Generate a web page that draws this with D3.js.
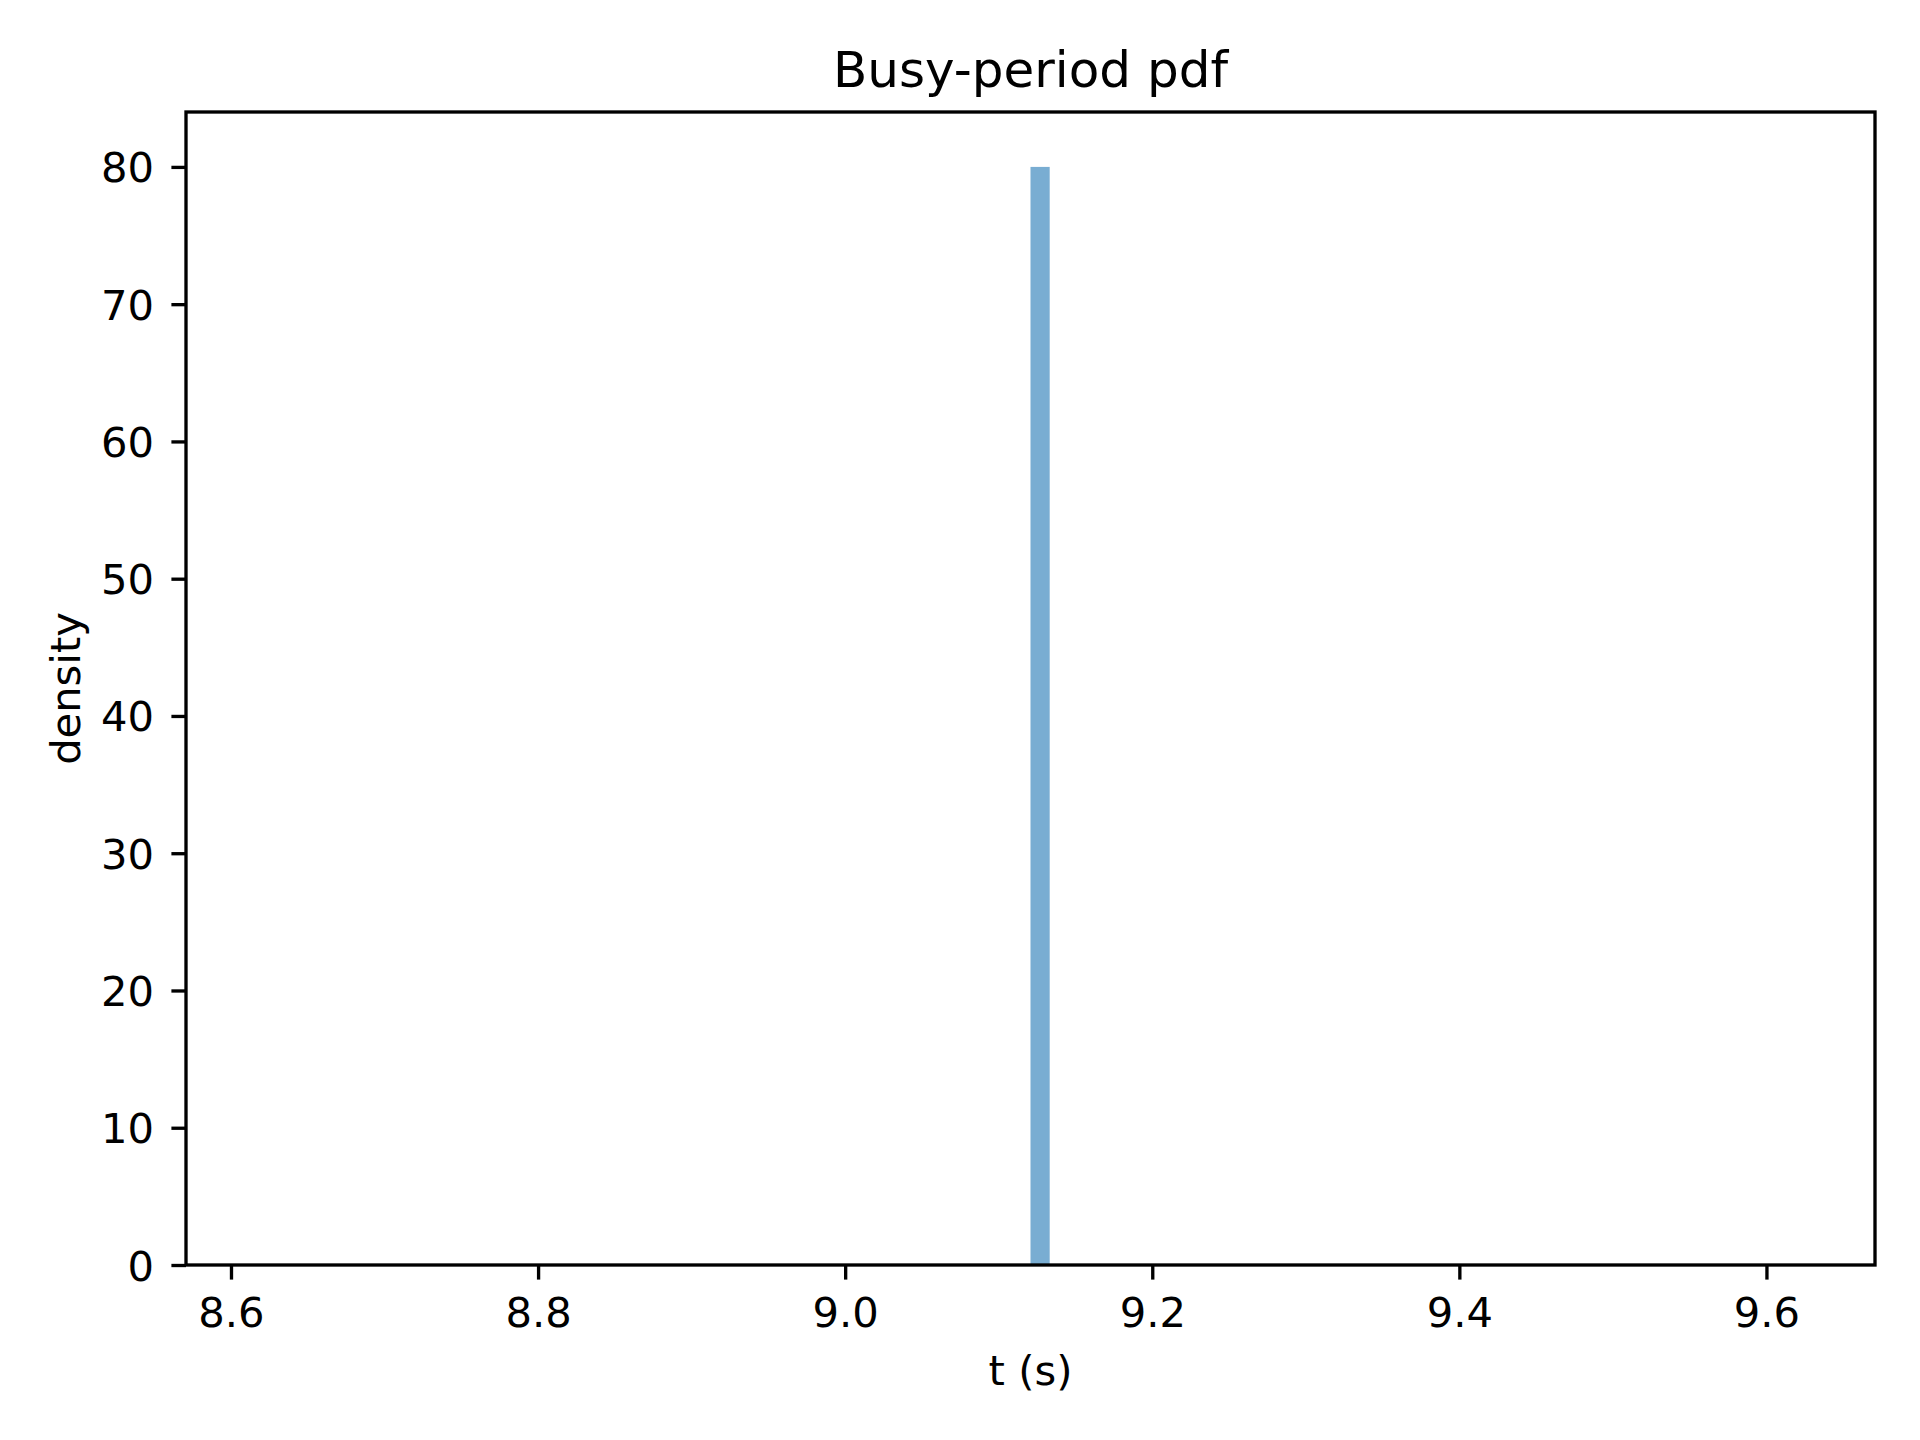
<!DOCTYPE html>
<html>
<head>
<meta charset="utf-8">
<script src="https://cdn.jsdelivr.net/npm/d3@7"></script>
<style>
  body { margin: 0; background: #fff; }
  text { font-family: "DejaVu Sans", sans-serif; fill: #000; }
</style>
</head>
<body>
<div id="canvas-wrapper"></div>
<script>
// histogram: one occupied bin, all other bins empty
var binStart = [9.1207];
var binEnd = [9.1332];
var density = [80];

var xDomain = [8.5707, 9.6707];
var yDomain = [0, 84];
var xTicks = [8.6, 8.8, 9.0, 9.2, 9.4, 9.6];
var yTicks = [0, 10, 20, 30, 40, 50, 60, 70, 80];

var bins = binStart.map(function(s, i) {
  return {x0: s, x1: binEnd[i], value: density[i]};
});

var margin = {top: 112, right: 45, bottom: 175, left: 186},
  width = 1920 - margin.left - margin.right,
  height = 1440 - margin.top - margin.bottom;

var x = d3.scaleLinear().domain(xDomain).range([0, width]);
var y = d3.scaleLinear().domain(yDomain).range([height, 0]);

var root = d3.select("#canvas-wrapper").append("svg")
    .attr("width", 1920)
    .attr("height", 1440);

var svg = root.append("g")
    .attr("transform", "translate(" + margin.left + "," + margin.top + ")");

// bars
svg.selectAll("rect.bar")
    .data(bins)
  .enter().append("rect")
    .attr("class", "bar")
    .attr("x", function(d) { return x(d.x0); })
    .attr("width", function(d) { return x(d.x1) - x(d.x0); })
    .attr("y", function(d) { return y(d.value); })
    .attr("height", function(d) { return y(0) - y(d.value); })
    .attr("fill", "#1f77b4")
    .attr("fill-opacity", 0.6);

// x axis
var xAxis = svg.append("g")
    .attr("transform", "translate(0," + height + ")")
    .call(d3.axisBottom(x)
      .tickValues(xTicks)
      .tickFormat(d3.format(".1f"))
      .tickSize(14.6)
      .tickPadding(17.8));
xAxis.select(".domain").remove();
xAxis.selectAll(".tick line").attr("stroke", "#000").attr("stroke-width", 3.33);
xAxis.selectAll(".tick text").attr("font-size", 41.67).attr("font-family", "DejaVu Sans");

// y axis
var yAxis = svg.append("g")
    .call(d3.axisLeft(y)
      .tickValues(yTicks)
      .tickSize(14.6)
      .tickPadding(17.4));
yAxis.select(".domain").remove();
yAxis.selectAll(".tick line").attr("stroke", "#000").attr("stroke-width", 3.33);
yAxis.selectAll(".tick text").attr("font-size", 41.67).attr("font-family", "DejaVu Sans")
    .attr("dy", "0.36em");

// frame
svg.append("rect")
    .attr("width", width)
    .attr("height", height)
    .attr("fill", "none")
    .attr("stroke", "#000")
    .attr("stroke-width", 3.33)
    .attr("stroke-linecap", "square");

// labels
root.append("text")
    .attr("x", margin.left + width / 2)
    .attr("y", 86.7)
    .attr("text-anchor", "middle")
    .attr("font-size", 50)
    .text("Busy-period pdf");

root.append("text")
    .attr("x", margin.left + width / 2)
    .attr("y", 1385)
    .attr("text-anchor", "middle")
    .attr("font-size", 41.67)
    .text("t (s)");

root.append("text")
    .attr("transform", "translate(80," + (margin.top + height / 2) + ") rotate(-90)")
    .attr("text-anchor", "middle")
    .attr("font-size", 41.67)
    .text("density");
</script>
</body>
</html>
